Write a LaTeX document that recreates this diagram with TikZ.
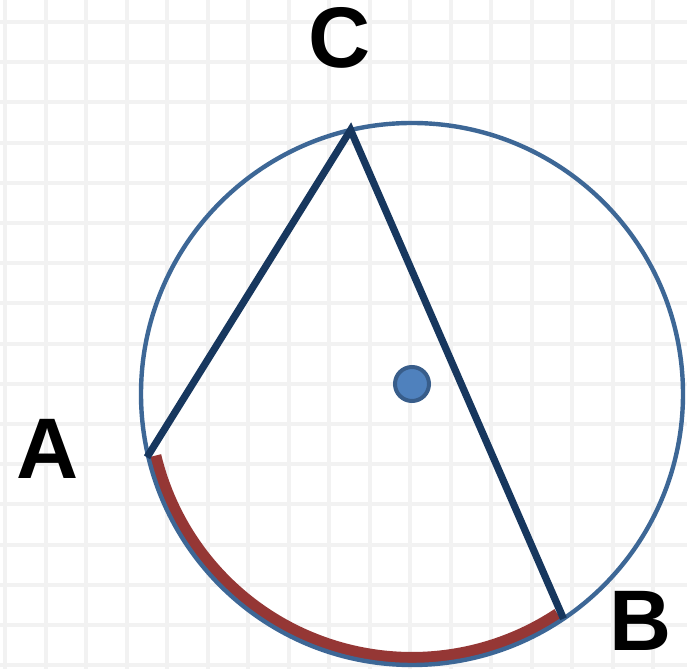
\documentclass[tikz,border=0pt]{standalone}
\usepackage{fontspec}
\setmainfont{Liberation Sans}
\usepackage{xcolor}
\usepackage{tikz}
\usetikzlibrary{calc}
\definecolor{ringblue}{HTML}{3D6796}
\definecolor{chordnavy}{HTML}{17375E}
\definecolor{arcred}{HTML}{953735}
\definecolor{dotfill}{HTML}{4F81BD}
\definecolor{dotline}{HTML}{385D8A}
\tikzset{
    gridline/.style={line width=2pt, color=black!5},
    ring/.style={ringblue, line width=2.2pt},
    chord/.style={chordnavy, line width=3.6pt, line join=miter},
    arcmark/.style={arcred, line width=6pt},
    ptlabel/.style={inner sep=0pt, font=\fontsize{43}{43}\selectfont\bfseries}
}

\begin{document}
\begin{tikzpicture}[x=0.5pt, y=0.5pt]
    \useasboundingbox[fill=white] (0,0) rectangle (687,669);

    % Background grid
    \foreach \gx in {0,...,16} {
        \draw[gridline] (5+40.5*\gx, 0) -- (5+40.5*\gx, 669);
    }
    \foreach \gy in {0,...,16} {
        \draw[gridline] (0, 647-40.2*\gy) -- (687, 647-40.2*\gy);
    }

    % Points
    \coordinate (O) at (412, 275);
    \coordinate (A) at (147, 211.7);
    \coordinate (C) at (350.6, 539);
    \coordinate (B) at (563.5, 50.3);

    % Arc AB
    \draw[arcmark] (O) ++(193.5:264) arc[start angle=193.5, end angle=303.5, radius=264];

    % Circle
    \draw[ring] (O) circle[radius=271];

    % Inscribed angle
    \draw[chord] (A) -- (C) -- (B);

    % Centre
    \node[circle, draw=dotline, fill=dotfill, line width=2pt, minimum size=17pt, inner sep=0pt] (dot) at (412, 285) {};

    % Labels
    \node[ptlabel] (labA) at (47.5, 220.5) {A};
    \node[ptlabel] (labC) at (340, 631) {C};
    \node[ptlabel] (labB) at (641, 48) {B};
\end{tikzpicture}
\end{document}
